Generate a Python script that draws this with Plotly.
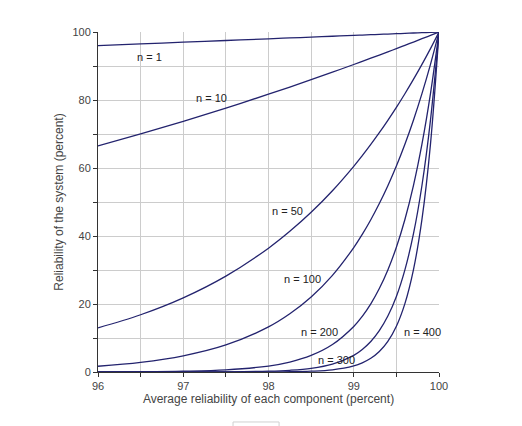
import plotly.graph_objects as go

# average component reliability (percent)
x_vals = [96, 96.5, 97, 97.5, 98, 98.25, 98.5, 98.75, 99, 99.1, 99.2, 99.3,
          99.4, 99.5, 99.6, 99.7, 99.8, 99.9, 100]

# system reliability (percent) for each number of components
r_n1 = [96, 96.5, 97, 97.5, 98, 98.25, 98.5, 98.75, 99, 99.1, 99.2, 99.3,
        99.4, 99.5, 99.6, 99.7, 99.8, 99.9, 100]
r_n10 = [66.48, 70.03, 73.74, 77.63, 81.71, 83.82, 85.97, 88.18, 90.44, 91.35,
         92.29, 93.22, 94.16, 95.11, 96.07, 97.04, 98.02, 99.00, 100]
r_n50 = [12.99, 16.84, 21.81, 28.20, 36.42, 41.37, 46.97, 53.32, 60.50, 63.63,
         66.93, 70.38, 74.02, 77.83, 81.84, 86.05, 90.47, 95.12, 100]
r_n100 = [1.69, 2.84, 4.76, 7.95, 13.26, 17.11, 22.06, 28.43, 36.60, 40.49,
          44.79, 49.54, 54.79, 60.58, 66.98, 74.05, 81.86, 90.48, 100]
r_n200 = [0.03, 0.08, 0.23, 0.63, 1.76, 2.93, 4.87, 8.08, 13.40, 16.39,
          20.06, 24.54, 30.02, 36.70, 44.86, 54.83, 67.01, 81.87, 100]
r_n300 = [0.0, 0.0, 0.01, 0.05, 0.23, 0.50, 1.07, 2.30, 4.90, 6.64,
          8.98, 12.16, 16.45, 22.23, 30.05, 40.60, 54.86, 74.08, 100]
r_n400 = [0.0, 0.0, 0.0, 0.0, 0.03, 0.09, 0.24, 0.65, 1.80, 2.69,
          4.02, 6.02, 9.01, 13.47, 20.12, 30.06, 44.90, 67.03, 100]

series = [r_n1, r_n10, r_n50, r_n100, r_n200, r_n300, r_n400]

# curve labels and where they sit
label_text = ["n = 1", "n = 10", "n = 50", "n = 100", "n = 200", "n = 300", "n = 400"]
label_x = [96.6, 97.33, 98.22, 98.40, 98.60, 98.80, 99.81]
label_y = [92.6, 80.6, 47.4, 27.4, 11.8, 3.5, 11.8]

line_color = "#23236e"
font_family = "Liberation Sans, Arial, sans-serif"

fig = go.Figure()
for ys, name in zip(series, label_text):
    fig.add_trace(go.Scatter(x=x_vals, y=ys, mode="lines", name=name,
                             line=dict(color=line_color, width=1.3, shape="spline"),
                             hoverinfo="skip"))

for t, lx, ly in zip(label_text, label_x, label_y):
    fig.add_annotation(x=lx, y=ly, text=t, showarrow=False,
                       font=dict(size=11, color="#222222", family=font_family))

# the cut-off button below the chart
fig.add_shape(type="rect", xref="paper", yref="paper",
              x0=0.396, x1=0.531, y0=-0.147, y1=-0.2,
              line=dict(color="#d0d0d0", width=1), fillcolor="white", layer="above")

# page body adds an 8px offset, so margins are shifted to compensate
fig.update_layout(
    width=522, height=426,
    margin=dict(l=90, r=91, t=24, b=62),
    paper_bgcolor="white", plot_bgcolor="white",
    showlegend=False,
    font=dict(family=font_family, size=11, color="#444444"),
)
fig.update_xaxes(
    range=[96, 100], dtick=1, tick0=96,
    showgrid=True, gridcolor="#cccccc", gridwidth=1,
    showline=True, linecolor="#333333", linewidth=1,
    ticks="outside", ticklen=4, tickcolor="#333333",
    minor=dict(dtick=0.5, showgrid=True, gridcolor="#cccccc",
               ticks="outside", ticklen=4, tickcolor="#333333"),
    zeroline=False,
    title=dict(text="Average reliability of each component (percent)",
               font=dict(size=12, color="#444444"), standoff=0),
)
fig.update_yaxes(
    range=[0, 100], dtick=20, tick0=0,
    showgrid=True, gridcolor="#cccccc", gridwidth=1,
    showline=True, linecolor="#333333", linewidth=1,
    ticks="outside", ticklen=4, tickcolor="#333333",
    minor=dict(dtick=10, showgrid=True, gridcolor="#cccccc",
               ticks="outside", ticklen=4, tickcolor="#333333"),
    zeroline=False,
    title=dict(text="Reliability of the system (percent)",
               font=dict(size=12, color="#444444"), standoff=6),
)

fig.write_html("out.html")
